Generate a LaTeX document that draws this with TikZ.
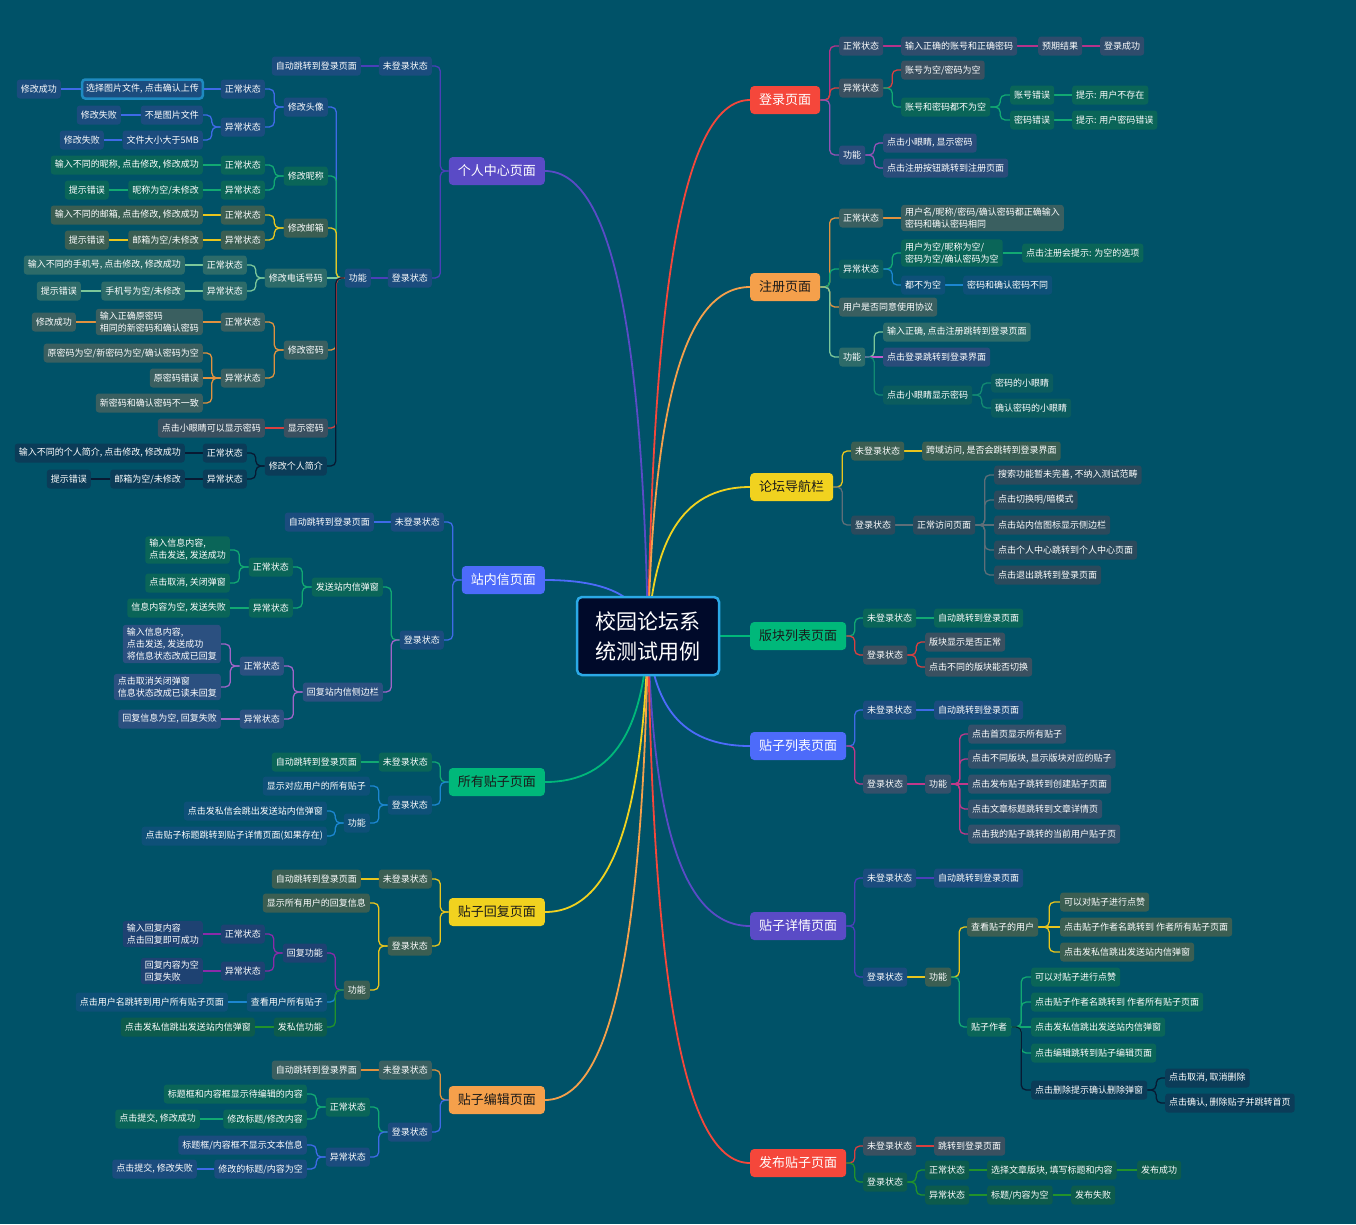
\documentclass[tikz,border=0pt]{standalone}
\usepackage{fontspec}
\setmainfont{Noto Sans CJK SC}
\usetikzlibrary{calc}
\definecolor{bgc}{HTML}{005268}
\definecolor{tRed}{HTML}{F5473B}
\definecolor{tOrg}{HTML}{F5A04B}
\definecolor{tYel}{HTML}{F1D21F}
\definecolor{tGrn}{HTML}{00B87A}
\definecolor{tBlu}{HTML}{4D6BFA}
\definecolor{tPur}{HTML}{5A4BC6}
\definecolor{dark}{HTML}{1A1A1A}
\definecolor{cMag}{HTML}{B5338A}
\definecolor{cRed}{HTML}{D94040}
\definecolor{cGrn}{HTML}{12A872}
\definecolor{cPur}{HTML}{9452B5}
\definecolor{cOrg}{HTML}{E0913F}
\definecolor{cLgr}{HTML}{7CC79A}
\definecolor{cBlu}{HTML}{1C86D0}
\definecolor{cRoy}{HTML}{3F6AE6}
\definecolor{cInd}{HTML}{4B3FB8}
\definecolor{cYel}{HTML}{E8C51E}
\definecolor{cGry}{HTML}{5E6E78}
\definecolor{cNav}{HTML}{081A33}
\definecolor{cPnk}{HTML}{C0398A}
\definecolor{cDgr}{HTML}{23922A}
\definecolor{cVio}{HTML}{8A2BA8}
\definecolor{cMgl}{HTML}{C25ACB}
\definecolor{cTea}{HTML}{128A72}
\definecolor{cLav}{HTML}{A064C8}
\definecolor{fBlu}{HTML}{1B4C7E}
\definecolor{fTeal}{HTML}{0A6558}
\definecolor{fOlv}{HTML}{3B5E52}
\definecolor{fSlate}{HTML}{2F4C6C}
\definecolor{fGray}{HTML}{3A5060}
\definecolor{fLgr}{HTML}{2D6B69}
\definecolor{fGrayG}{HTML}{3A5F60}
\definecolor{fNav}{HTML}{0B3C58}
\definecolor{fSky}{HTML}{0E5078}
\definecolor{fPurB}{HTML}{2A4C7A}
\definecolor{fDgr}{HTML}{0D5B4C}
\definecolor{fTeal2}{HTML}{0B5C5E}
\definecolor{fNavG}{HTML}{2B4A5C}
\definecolor{fPnk}{HTML}{34506A}
\definecolor{fVioB}{HTML}{1E4272}
\definecolor{fLav}{HTML}{2B5080}
\definecolor{rootfill}{HTML}{000A2A}
\definecolor{rootdraw}{HTML}{2BA9E6}
\definecolor{selc}{HTML}{1E8AC0}
\pgfdeclarelayer{bg}
\pgfdeclarelayer{lines}
\pgfsetlayers{bg,lines,main}
\tikzset{
  nd/.style={rounded corners=3pt, font=\fontsize{9}{12}\selectfont, text=white, inner xsep=4pt, inner ysep=3pt, minimum height=19pt, align=left},
  rnode/.style={nd, anchor=west},
  lnode/.style={nd, anchor=east},
  topic/.style={rounded corners=4pt, font=\fontsize{13}{16}\selectfont, inner xsep=9pt, minimum height=28pt},
  conn/.style={line width=1.3pt, rounded corners=5pt},
  mconn/.style={line width=1.8pt},
}
\newcommand\conR[3]{\draw[conn,#1] (#2.east) -- ($(#2.east)!0.5!(#2.east -| #3.west)$) |- (#3.west);}
\newcommand\conL[3]{\draw[conn,#1] (#2.west) -- ($(#2.west)!0.5!(#2.west -| #3.east)$) |- (#3.east);}
\newcommand\conSR[3]{\draw[conn,#1] (#2.east) -- (#3.west);}
\newcommand\conSL[3]{\draw[conn,#1] (#2.west) -- (#3.east);}
\newcommand\conMR[2]{\draw[mconn,#1] (root.center) .. controls ($(root.center)!0.6!(root.center |- #2.west)+(5,0)$) and ($(#2.west)!0.7!(#2.west -| root.center)$) .. (#2.west);}
\newcommand\conML[2]{\draw[mconn,#1] (root.center) .. controls ($(root.center)!0.6!(root.center |- #2.east)+(-5,0)$) and ($(#2.east)!0.7!(#2.east -| root.center)$) .. (#2.east);}
\begin{document}
\begin{tikzpicture}[x=1pt,y=-1pt]
\begin{pgfonlayer}{bg}
\fill[bgc] (0,0) rectangle (1356,1224);
\end{pgfonlayer}
\useasboundingbox (0,0) rectangle (1356,1224);

% root
\node[rounded corners=5pt, fill=rootfill, draw=rootdraw, line width=2.5pt, minimum width=142pt, minimum height=78pt, font=\fontsize{21}{30}\selectfont, text=white, align=center] (root) at (648,636) {校园论坛系\\统测试用例};

% ===== login =====
\node[topic, anchor=west, fill=tRed, text=white] (login) at (750,100) {登录页面};
\node[rnode, fill=fSlate] (l1) at (839,46) {正常状态};
\node[rnode, fill=fSlate] (l11) at (901,46) {输入正确的账号和正确密码};
\node[rnode, fill=fSlate] (l111) at (1038,46) {预期结果};
\node[rnode, fill=fSlate] (l1111) at (1100,46) {登录成功};
\node[rnode, fill=fGray] (l2) at (839,88) {异常状态};
\node[rnode, fill=fGray] (l21) at (901,70) {账号为空/密码为空};
\node[rnode, fill=fTeal] (l22) at (901,107) {账号和密码都不为空};
\node[rnode, fill=fTeal] (l221) at (1010,95) {账号错误};
\node[rnode, fill=fTeal] (l2211) at (1072,95) {提示: 用户不存在};
\node[rnode, fill=fTeal] (l222) at (1010,120) {密码错误};
\node[rnode, fill=fTeal] (l2221) at (1072,120) {提示: 用户密码错误};
\node[rnode, fill=fPurB] (l3) at (839,155) {功能};
\node[rnode, fill=fPurB] (l31) at (883,143) {点击小眼睛, 显示密码};
\node[rnode, fill=fPurB] (l32) at (883,168) {点击注册按钮跳转到注册页面};

% ===== register =====
\node[topic, anchor=west, fill=tOrg, text=dark] (reg) at (750,287) {注册页面};
\node[rnode, fill=fGrayG] (r1) at (839,218) {正常状态};
\node[rnode, fill=fGrayG] (r11) at (901,218) {用户名/昵称/密码/确认密码都正确输入\\密码和确认密码相同};
\node[rnode, fill=fTeal2] (r2) at (839,269) {异常状态};
\node[rnode, fill=fTeal] (r21) at (901,253) {用户为空/昵称为空/\\密码为空/确认密码为空};
\node[rnode, fill=fTeal] (r211) at (1022,253) {点击注册会提示: 为空的选项};
\node[rnode, fill=fSky] (r22) at (901,285) {都不为空};
\node[rnode, fill=fSky] (r221) at (963,285) {密码和确认密码不同};
\node[rnode, fill=fGrayG] (r3) at (839,307) {用户是否同意使用协议};
\node[rnode, fill=fLgr] (r4) at (839,357) {功能};
\node[rnode, fill=fLgr] (r41) at (883,332) {输入正确, 点击注册跳转到登录页面};
\node[rnode, fill=fPurB] (r42) at (883,357) {点击登录跳转到登录界面};
\node[rnode, fill=fTeal2] (r43) at (883,395) {点击小眼睛显示密码};
\node[rnode, fill=fTeal2] (r431) at (991,383) {密码的小眼睛};
\node[rnode, fill=fTeal2] (r432) at (991,408) {确认密码的小眼睛};

% ===== nav =====
\node[topic, anchor=west, fill=tYel, text=dark] (nav) at (750,487) {论坛导航栏};
\node[rnode, fill=fOlv] (n1) at (851,451) {未登录状态};
\node[rnode, fill=fOlv] (n11) at (922,451) {跨域访问, 是否会跳转到登录界面};
\node[rnode, fill=fNavG] (n2) at (851,525) {登录状态};
\node[rnode, fill=fNavG] (n21) at (913,525) {正常访问页面};
\node[rnode, fill=fNavG] (n211) at (994,475) {搜索功能暂未完善, 不纳入测试范畴};
\node[rnode, fill=fNavG] (n212) at (994,500) {点击切换明/暗模式};
\node[rnode, fill=fNavG] (n213) at (994,525) {点击站内信图标显示侧边栏};
\node[rnode, fill=fNavG] (n214) at (994,550) {点击个人中心跳转到个人中心页面};
\node[rnode, fill=fNavG] (n215) at (994,575) {点击退出跳转到登录页面};

% ===== board =====
\node[topic, anchor=west, fill=tGrn, text=dark] (board) at (750,636) {版块列表页面};
\node[rnode, fill=fTeal] (b1) at (863,618) {未登录状态};
\node[rnode, fill=fTeal] (b11) at (934,618) {自动跳转到登录页面};
\node[rnode, fill=fGray] (b2) at (863,655) {登录状态};
\node[rnode, fill=fGray] (b21) at (925,642) {版块显示是否正常};
\node[rnode, fill=fGray] (b22) at (925,667) {点击不同的版块能否切换};

% ===== post list =====
\node[topic, anchor=west, fill=tBlu, text=white] (plist) at (750,746) {贴子列表页面};
\node[rnode, fill=fBlu] (p1) at (863,710) {未登录状态};
\node[rnode, fill=fBlu] (p11) at (934,710) {自动跳转到登录页面};
\node[rnode, fill=fPnk] (p2) at (863,784) {登录状态};
\node[rnode, fill=fPnk] (p21) at (925,784) {功能};
\node[rnode, fill=fPnk] (p211) at (968,734) {点击首页显示所有贴子};
\node[rnode, fill=fPnk] (p212) at (968,759) {点击不同版块, 显示版块对应的贴子};
\node[rnode, fill=fPnk] (p213) at (968,784) {点击发布贴子跳转到创建贴子页面};
\node[rnode, fill=fPnk] (p214) at (968,809) {点击文章标题跳转到文章详情页};
\node[rnode, fill=fPnk] (p215) at (968,834) {点击我的贴子跳转的当前用户贴子页};

% ===== detail =====
\node[topic, anchor=west, fill=tPur, text=white] (det) at (750,926) {贴子详情页面};
\node[rnode, fill=fBlu] (d1) at (863,878) {未登录状态};
\node[rnode, fill=fBlu] (d11) at (934,878) {自动跳转到登录页面};
\node[rnode, fill=fBlu] (d2) at (863,977) {登录状态};
\node[rnode, fill=fOlv] (d21) at (925,977) {功能};
\node[rnode, fill=fOlv] (d211) at (967,927) {查看贴子的用户};
\node[rnode, fill=fOlv] (d2111) at (1060,902) {可以对贴子进行点赞};
\node[rnode, fill=fOlv] (d2112) at (1060,927) {点击贴子作者名跳转到 作者所有贴子页面};
\node[rnode, fill=fOlv] (d2113) at (1060,952) {点击发私信跳出发送站内信弹窗};
\node[rnode, fill=fTeal] (d212) at (967,1027) {贴子作者};
\node[rnode, fill=fTeal] (d2121) at (1031,977) {可以对贴子进行点赞};
\node[rnode, fill=fTeal] (d2122) at (1031,1002) {点击贴子作者名跳转到 作者所有贴子页面};
\node[rnode, fill=fTeal] (d2123) at (1031,1027) {点击发私信跳出发送站内信弹窗};
\node[rnode, fill=fTeal] (d2124) at (1031,1053) {点击编辑跳转到贴子编辑页面};
\node[rnode, fill=fNav] (d2125) at (1031,1090) {点击删除提示确认删除弹窗};
\node[rnode, fill=fNav] (d21251) at (1165,1078) {点击取消, 取消删除};
\node[rnode, fill=fNav] (d21252) at (1165,1103) {点击确认, 删除贴子并跳转首页};

% ===== publish =====
\node[topic, anchor=west, fill=tRed, text=white] (pub) at (750,1163) {发布贴子页面};
\node[rnode, fill=fGray] (u1) at (863,1146) {未登录状态};
\node[rnode, fill=fGray] (u11) at (934,1146) {跳转到登录页面};
\node[rnode, fill=fDgr] (u2) at (863,1182) {登录状态};
\node[rnode, fill=fDgr] (u21) at (925,1170) {正常状态};
\node[rnode, fill=fDgr] (u211) at (987,1170) {选择文章版块, 填写标题和内容};
\node[rnode, fill=fDgr] (u2111) at (1137,1170) {发布成功};
\node[rnode, fill=fDgr] (u22) at (925,1195) {异常状态};
\node[rnode, fill=fDgr] (u221) at (987,1195) {标题/内容为空};
\node[rnode, fill=fDgr] (u2211) at (1071,1195) {发布失败};

% ===== personal center =====
\node[topic, anchor=east, fill=tPur, text=white] (pc) at (545,171) {个人中心页面};
\node[lnode, fill=fBlu] (c1) at (432,66) {未登录状态};
\node[lnode, fill=fBlu] (c11) at (361,66) {自动跳转到登录页面};
\node[lnode, fill=fBlu] (c2) at (432,278) {登录状态};
\node[lnode, fill=fBlu] (c21) at (371,278) {功能};
\node[lnode, fill=fBlu] (c211) at (328,107) {修改头像};
\node[lnode, fill=fBlu] (c2111) at (265,89) {正常状态};
\node[lnode, fill=fBlu, draw=selc, line width=2.5pt] (c21111) at (204,89) {选择图片文件, 点击确认上传};
\node[lnode, fill=fBlu] (c211111) at (61,89) {修改成功};
\node[lnode, fill=fBlu] (c2112) at (265,127) {异常状态};
\node[lnode, fill=fBlu] (c21121) at (203,115) {不是图片文件};
\node[lnode, fill=fBlu] (c211211) at (121,115) {修改失败};
\node[lnode, fill=fBlu] (c21122) at (203,140) {文件大小大于5MB};
\node[lnode, fill=fBlu] (c211221) at (104,140) {修改失败};
\node[lnode, fill=fTeal] (c212) at (328,176) {修改昵称};
\node[lnode, fill=fTeal] (c2121) at (265,165) {正常状态};
\node[lnode, fill=fTeal] (c21211) at (203,165) {输入不同的昵称, 点击修改, 修改成功};
\node[lnode, fill=fTeal] (c2122) at (265,190) {异常状态};
\node[lnode, fill=fTeal] (c21221) at (203,190) {昵称为空/未修改};
\node[lnode, fill=fTeal] (c212211) at (109,190) {提示错误};
\node[lnode, fill=fOlv] (c213) at (328,228) {修改邮箱};
\node[lnode, fill=fOlv] (c2131) at (265,215) {正常状态};
\node[lnode, fill=fOlv] (c21311) at (203,215) {输入不同的邮箱, 点击修改, 修改成功};
\node[lnode, fill=fOlv] (c2132) at (265,240) {异常状态};
\node[lnode, fill=fOlv] (c21321) at (203,240) {邮箱为空/未修改};
\node[lnode, fill=fOlv] (c213211) at (109,240) {提示错误};
\node[lnode, fill=fLgr] (c214) at (327,278) {修改电话号码};
\node[lnode, fill=fLgr] (c2141) at (247,265) {正常状态};
\node[lnode, fill=fLgr] (c21411) at (185,265) {输入不同的手机号, 点击修改, 修改成功};
\node[lnode, fill=fLgr] (c2142) at (247,291) {异常状态};
\node[lnode, fill=fLgr] (c21421) at (185,291) {手机号为空/未修改};
\node[lnode, fill=fLgr] (c214211) at (81,291) {提示错误};
\node[lnode, fill=fGrayG] (c215) at (328,350) {修改密码};
\node[lnode, fill=fGrayG] (c2151) at (265,322) {正常状态};
\node[lnode, fill=fGrayG] (c21511) at (203,322) {输入正确原密码\\相同的新密码和确认密码};
\node[lnode, fill=fGrayG] (c215111) at (76,322) {修改成功};
\node[lnode, fill=fGrayG] (c2152) at (265,378) {异常状态};
\node[lnode, fill=fGrayG] (c21521) at (203,353) {原密码为空/新密码为空/确认密码为空};
\node[lnode, fill=fGrayG] (c21522) at (203,378) {原密码错误};
\node[lnode, fill=fGrayG] (c21523) at (203,403) {新密码和确认密码不一致};
\node[lnode, fill=fGray] (c216) at (328,428) {显示密码};
\node[lnode, fill=fGray] (c2161) at (265,428) {点击小眼睛可以显示密码};
\node[lnode, fill=fNav] (c217) at (327,466) {修改个人简介};
\node[lnode, fill=fNav] (c2171) at (247,453) {正常状态};
\node[lnode, fill=fNav] (c21711) at (185,453) {输入不同的个人简介, 点击修改, 修改成功};
\node[lnode, fill=fNav] (c2172) at (247,479) {异常状态};
\node[lnode, fill=fNav] (c21721) at (185,479) {邮箱为空/未修改};
\node[lnode, fill=fNav] (c217211) at (91,479) {提示错误};

% ===== station mail =====
\node[topic, anchor=east, fill=tBlu, text=white] (sm) at (545,580) {站内信页面};
\node[lnode, fill=fBlu] (s1) at (444,522) {未登录状态};
\node[lnode, fill=fBlu] (s11) at (374,522) {自动跳转到登录页面};
\node[lnode, fill=fBlu] (s2) at (444,640) {登录状态};
\node[lnode, fill=fTeal] (s21) at (383,587) {发送站内信弹窗};
\node[lnode, fill=fTeal] (s211) at (293,567) {正常状态};
\node[lnode, fill=fTeal] (s2111) at (230,550) {输入信息内容,\\点击发送, 发送成功};
\node[lnode, fill=fTeal] (s2112) at (230,583) {点击取消, 关闭弹窗};
\node[lnode, fill=fTeal] (s212) at (293,608) {异常状态};
\node[lnode, fill=fTeal] (s2121) at (230,608) {信息内容为空, 发送失败};
\node[lnode, fill=fLav] (s22) at (383,692) {回复站内信侧边栏};
\node[lnode, fill=fLav] (s221) at (284,666) {正常状态};
\node[lnode, fill=fLav] (s2211) at (221,644) {输入信息内容,\\点击发送, 发送成功\\将信息状态改成已回复};
\node[lnode, fill=fLav] (s2212) at (221,687) {点击取消关闭弹窗\\信息状态改成已读未回复};
\node[lnode, fill=fLav] (s222) at (284,719) {异常状态};
\node[lnode, fill=fLav] (s2221) at (221,719) {回复信息为空, 回复失败};

% ===== all posts =====
\node[topic, anchor=east, fill=tGrn, text=dark] (ap) at (545,782) {所有贴子页面};
\node[lnode, fill=fTeal] (a1) at (432,762) {未登录状态};
\node[lnode, fill=fTeal] (a11) at (361,762) {自动跳转到登录页面};
\node[lnode, fill=fSky] (a2) at (432,805) {登录状态};
\node[lnode, fill=fSky] (a21) at (370,786) {显示对应用户的所有贴子};
\node[lnode, fill=fSky] (a22) at (370,823) {功能};
\node[lnode, fill=fSky] (a221) at (327,811) {点击发私信会跳出发送站内信弹窗};
\node[lnode, fill=fSky] (a222) at (327,836) {点击贴子标题跳转到贴子详情页面(如果存在)};

% ===== reply =====
\node[topic, anchor=east, fill=tYel, text=dark] (rp) at (545,912) {贴子回复页面};
\node[lnode, fill=fOlv] (q1) at (432,879) {未登录状态};
\node[lnode, fill=fOlv] (q11) at (361,879) {自动跳转到登录页面};
\node[lnode, fill=fOlv] (q2) at (432,946) {登录状态};
\node[lnode, fill=fOlv] (q21) at (370,903) {显示所有用户的回复信息};
\node[lnode, fill=fOlv] (q22) at (370,990) {功能};
\node[lnode, fill=fVioB] (q221) at (327,953) {回复功能};
\node[lnode, fill=fVioB] (q2211) at (265,934) {正常状态};
\node[lnode, fill=fVioB] (q22111) at (203,934) {输入回复内容\\点击回复即可成功};
\node[lnode, fill=fVioB] (q2212) at (265,971) {异常状态};
\node[lnode, fill=fVioB] (q22121) at (203,971) {回复内容为空\\回复失败};
\node[lnode, fill=fSky] (q222) at (327,1002) {查看用户所有贴子};
\node[lnode, fill=fSky] (q2221) at (228,1002) {点击用户名跳转到用户所有贴子页面};
\node[lnode, fill=fDgr] (q223) at (327,1027) {发私信功能};
\node[lnode, fill=fDgr] (q2231) at (255,1027) {点击发私信跳出发送站内信弹窗};

% ===== edit =====
\node[topic, anchor=east, fill=tOrg, text=dark] (ed) at (545,1100) {贴子编辑页面};
\node[lnode, fill=fGrayG] (e1) at (432,1070) {未登录状态};
\node[lnode, fill=fGrayG] (e11) at (361,1070) {自动跳转到登录界面};
\node[lnode, fill=fBlu] (e2) at (432,1132) {登录状态};
\node[lnode, fill=fTeal] (e21) at (370,1107) {正常状态};
\node[lnode, fill=fTeal] (e211) at (307,1094) {标题框和内容框显示待编辑的内容};
\node[lnode, fill=fTeal] (e212) at (307,1119) {修改标题/修改内容};
\node[lnode, fill=fTeal] (e2121) at (200,1119) {点击提交, 修改成功};
\node[lnode, fill=fBlu] (e22) at (370,1157) {异常状态};
\node[lnode, fill=fBlu] (e221) at (307,1145) {标题框/内容框不显示文本信息};
\node[lnode, fill=fBlu] (e222) at (307,1169) {修改的标题/内容为空};
\node[lnode, fill=fBlu] (e2221) at (197,1169) {点击提交, 修改失败};

\begin{pgfonlayer}{lines}
% main curves
\conMR{tRed}{login}
\conMR{tOrg}{reg}
\conMR{tYel}{nav}
\conSR{tGrn}{root}{board}
\conMR{tBlu}{plist}
\conMR{tPur}{det}
\conMR{tRed}{pub}
\conML{tPur}{pc}
\conML{tBlu}{sm}
\conML{tGrn}{ap}
\conML{tYel}{rp}
\conML{tOrg}{ed}
% login
\conR{cMag}{login}{l1}
\conR{cRed}{login}{l2}
\conR{cPur}{login}{l3}
\conSR{cMag}{l1}{l11}
\conSR{cMag}{l11}{l111}
\conSR{cMag}{l111}{l1111}
\conR{cRed}{l2}{l21}
\conR{cGrn}{l2}{l22}
\conR{cGrn}{l22}{l221}
\conR{cGrn}{l22}{l222}
\conSR{cGrn}{l221}{l2211}
\conSR{cGrn}{l222}{l2221}
\conR{cPur}{l3}{l31}
\conR{cPur}{l3}{l32}
% register
\conR{cOrg}{reg}{r1}
\conR{cGrn}{reg}{r2}
\conR{cOrg}{reg}{r3}
\conR{cLgr}{reg}{r4}
\conSR{cOrg}{r1}{r11}
\conR{cGrn}{r2}{r21}
\conR{cBlu}{r2}{r22}
\conSR{cGrn}{r21}{r211}
\conSR{cBlu}{r22}{r221}
\conR{cLgr}{r4}{r41}
\conSR{cMgl}{r4}{r42}
\conR{cTea}{r4}{r43}
\conR{cTea}{r43}{r431}
\conR{cTea}{r43}{r432}
% nav
\conR{cYel}{nav}{n1}
\conR{cGry}{nav}{n2}
\conSR{cYel}{n1}{n11}
\conSR{cGry}{n2}{n21}
\conR{cGry}{n21}{n211}
\conR{cGry}{n21}{n212}
\conSR{cGry}{n21}{n213}
\conR{cGry}{n21}{n214}
\conR{cGry}{n21}{n215}
% board
\conR{cGrn}{board}{b1}
\conR{cRed}{board}{b2}
\conSR{cGrn}{b1}{b11}
\conR{cRed}{b2}{b21}
\conR{cRed}{b2}{b22}
% post list
\conR{cRoy}{plist}{p1}
\conR{cPnk}{plist}{p2}
\conSR{cRoy}{p1}{p11}
\conSR{cPnk}{p2}{p21}
\conR{cPnk}{p21}{p211}
\conR{cPnk}{p21}{p212}
\conSR{cPnk}{p21}{p213}
\conR{cPnk}{p21}{p214}
\conR{cPnk}{p21}{p215}
% detail
\conR{cInd}{det}{d1}
\conR{cInd}{det}{d2}
\conSR{cInd}{d1}{d11}
\conSR{cYel}{d2}{d21}
\conR{cYel}{d21}{d211}
\conR{cGrn}{d21}{d212}
\conR{cYel}{d211}{d2111}
\conSR{cYel}{d211}{d2112}
\conR{cYel}{d211}{d2113}
\conR{cGrn}{d212}{d2121}
\conR{cGrn}{d212}{d2122}
\conSR{cGrn}{d212}{d2123}
\conR{cGrn}{d212}{d2124}
\conR{cNav}{d212}{d2125}
\conR{cNav}{d2125}{d21251}
\conR{cNav}{d2125}{d21252}
% publish
\conR{cRed}{pub}{u1}
\conR{cDgr}{pub}{u2}
\conSR{cRed}{u1}{u11}
\conR{cDgr}{u2}{u21}
\conR{cDgr}{u2}{u22}
\conSR{cDgr}{u21}{u211}
\conSR{cDgr}{u211}{u2111}
\conSR{cDgr}{u22}{u221}
\conSR{cDgr}{u221}{u2211}
% personal center
\conL{cInd}{pc}{c1}
\conL{cInd}{pc}{c2}
\conSL{cInd}{c1}{c11}
\conSL{cInd}{c2}{c21}
\conL{cRoy}{c21}{c211}
\conL{cGrn}{c21}{c212}
\conL{cYel}{c21}{c213}
\conSL{cLgr}{c21}{c214}
\conL{cOrg}{c21}{c215}
\conL{cRed}{c21}{c216}
\conL{cNav}{c21}{c217}
\conL{cRoy}{c211}{c2111}
\conL{cRoy}{c211}{c2112}
\conSL{cRoy}{c2111}{c21111}
\conSL{cRoy}{c21111}{c211111}
\conL{cRoy}{c2112}{c21121}
\conL{cRoy}{c2112}{c21122}
\conSL{cRoy}{c21121}{c211211}
\conSL{cRoy}{c21122}{c211221}
\conL{cGrn}{c212}{c2121}
\conL{cGrn}{c212}{c2122}
\conSL{cGrn}{c2121}{c21211}
\conSL{cGrn}{c2122}{c21221}
\conSL{cGrn}{c21221}{c212211}
\conL{cYel}{c213}{c2131}
\conL{cYel}{c213}{c2132}
\conSL{cYel}{c2131}{c21311}
\conSL{cYel}{c2132}{c21321}
\conSL{cYel}{c21321}{c213211}
\conL{cLgr}{c214}{c2141}
\conL{cLgr}{c214}{c2142}
\conSL{cLgr}{c2141}{c21411}
\conSL{cLgr}{c2142}{c21421}
\conSL{cLgr}{c21421}{c214211}
\conL{cOrg}{c215}{c2151}
\conL{cOrg}{c215}{c2152}
\conSL{cOrg}{c2151}{c21511}
\conSL{cOrg}{c21511}{c215111}
\conL{cOrg}{c2152}{c21521}
\conSL{cOrg}{c2152}{c21522}
\conL{cOrg}{c2152}{c21523}
\conSL{cRed}{c216}{c2161}
\conL{cNav}{c217}{c2171}
\conL{cNav}{c217}{c2172}
\conSL{cNav}{c2171}{c21711}
\conSL{cNav}{c2172}{c21721}
\conSL{cNav}{c21721}{c217211}
% station mail
\conL{cRoy}{sm}{s1}
\conL{cRoy}{sm}{s2}
\conSL{cRoy}{s1}{s11}
\conL{cGrn}{s2}{s21}
\conL{cLav}{s2}{s22}
\conL{cGrn}{s21}{s211}
\conL{cGrn}{s21}{s212}
\conL{cGrn}{s211}{s2111}
\conL{cGrn}{s211}{s2112}
\conSL{cGrn}{s212}{s2121}
\conL{cLav}{s22}{s221}
\conL{cLav}{s22}{s222}
\conL{cLav}{s221}{s2211}
\conL{cLav}{s221}{s2212}
\conSL{cLav}{s222}{s2221}
% all posts
\conL{cGrn}{ap}{a1}
\conL{cBlu}{ap}{a2}
\conSL{cGrn}{a1}{a11}
\conL{cBlu}{a2}{a21}
\conL{cBlu}{a2}{a22}
\conL{cBlu}{a22}{a221}
\conL{cBlu}{a22}{a222}
% reply
\conL{cYel}{rp}{q1}
\conL{cYel}{rp}{q2}
\conSL{cYel}{q1}{q11}
\conL{cYel}{q2}{q21}
\conL{cYel}{q2}{q22}
\conL{cVio}{q22}{q221}
\conL{cBlu}{q22}{q222}
\conL{cDgr}{q22}{q223}
\conL{cVio}{q221}{q2211}
\conL{cVio}{q221}{q2212}
\conSL{cVio}{q2211}{q22111}
\conSL{cVio}{q2212}{q22121}
\conSL{cBlu}{q222}{q2221}
\conSL{cDgr}{q223}{q2231}
% edit
\conL{cOrg}{ed}{e1}
\conL{cRoy}{ed}{e2}
\conSL{cOrg}{e1}{e11}
\conL{cGrn}{e2}{e21}
\conL{cRoy}{e2}{e22}
\conL{cGrn}{e21}{e211}
\conL{cGrn}{e21}{e212}
\conSL{cGrn}{e212}{e2121}
\conL{cRoy}{e22}{e221}
\conL{cRoy}{e22}{e222}
\conSL{cRoy}{e222}{e2221}
\end{pgfonlayer}
\end{tikzpicture}
\end{document}
